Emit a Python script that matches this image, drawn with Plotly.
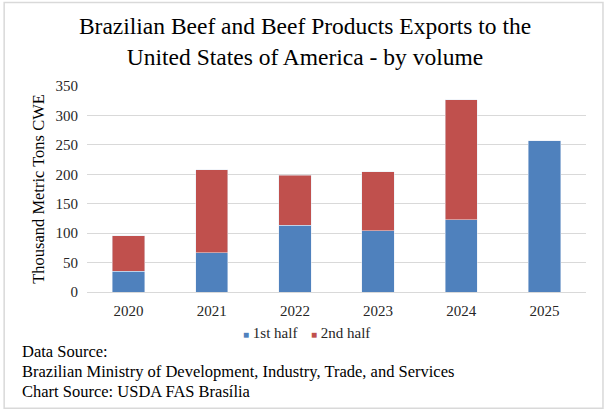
import plotly.graph_objects as go

years = ['2020', '2021', '2022', '2023', '2024', '2025']
first_half = [35, 67, 113, 104, 123, 257]
second_half = [61, 141, 85, 100, 204, None]
series_names = ['1st half', '2nd half']
series_colors = ['#4f81bd', '#c0504d']
y_ticks = [0, 50, 100, 150, 200, 250, 300, 350]
source_lines = ['Data Source:',
                'Brazilian Ministry of Development, Industry, Trade, and Services',
                'Chart Source: USDA FAS Brasília']

serif = 'Liberation Serif, Times New Roman, serif'

fig = go.Figure()
for vals, name, col in zip([first_half, second_half], series_names, series_colors):
    fig.add_trace(go.Bar(x=years, y=vals, name=name, marker_color=col, width=0.39, showlegend=False))

fig.update_layout(
    barmode='stack',
    width=610, height=411,
    margin=dict(l=87, r=24, t=86, b=119),
    paper_bgcolor='white', plot_bgcolor='white',
    font=dict(family=serif, size=14, color='#262626'),
    title=dict(text='Brazilian Beef and Beef Products Exports to the<br>United States of America - by volume',
               x=0.5, xanchor='center', y=0.917, yanchor='top',
               font=dict(family=serif, size=23.5, color='#000000')),
)
fig.update_xaxes(showgrid=False, showline=True, linecolor='#d9d9d9', linewidth=1,
                 ticks='', ticklabelstandoff=5, tickfont=dict(family=serif, size=15, color='#262626'))
fig.update_yaxes(range=[0, 350], tickvals=y_ticks, showgrid=True, gridcolor='#d9d9d9', gridwidth=1,
                 zeroline=False, showline=False, ticks='', ticklabelstandoff=8,
                 tickfont=dict(family=serif, size=15, color='#262626'),
                 title=dict(text='Thousand Metric Tons CWE', standoff=6,
                            font=dict(family=serif, size=16.5, color='#000000')))

# legend drawn as small squares + names, like the Excel one
legend_x = [0.309, 0.445]
for name, col, lx in zip(series_names, series_colors, legend_x):
    fig.add_annotation(text='<span style="color:%s;font-size:10px">■</span> %s' % (col, name),
                       xref='paper', yref='paper', x=lx, y=-0.198, xanchor='left', yanchor='middle',
                       showarrow=False, font=dict(family=serif, size=15, color='#262626'))

# source notes under the chart, one line each
for i, line in enumerate(source_lines):
    fig.add_annotation(text=line, xref='paper', yref='paper', x=-0.134, y=-0.29 - i * 0.097,
                       xanchor='left', yanchor='middle', showarrow=False,
                       font=dict(family=serif, size=16.5, color='#000000'))

# light frame round the whole chart
fig.add_shape(type='rect', xref='paper', yref='paper', x0=-0.166, x1=1.034, y0=-0.564, y1=1.405,
              line=dict(color='#d9d9d9', width=1.5), fillcolor='rgba(0,0,0,0)', layer='above')

fig.write_html('out.html', config={'displayModeBar': False},
               post_script="document.body.style.margin='0';")
